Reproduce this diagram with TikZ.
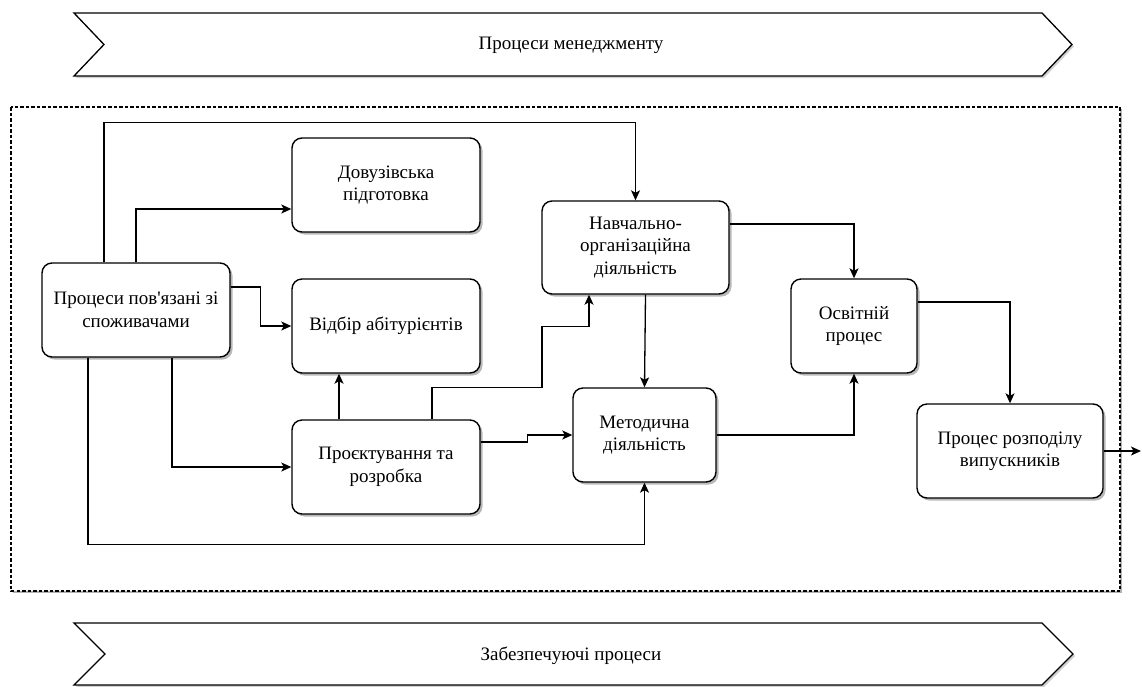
\documentclass[tikz,border=0pt]{standalone}
\usepackage{fontspec}
\newfontfamily\diagfont{Liberation Serif}
\usetikzlibrary{arrows.meta,shadows}

\tikzset{
  txt/.style={font=\diagfont\fontsize{19}{22.5}\selectfont, align=center},
  proc/.style={txt, draw, line width=1.4pt, rounded corners=10pt, fill=white,
    inner sep=0pt,
    drop shadow={shadow xshift=2.5pt, shadow yshift=-2.5pt, opacity=0.28, fill=black}},
  chev/.style={draw, line width=1.3pt, fill=white,
    drop shadow={shadow xshift=2pt, shadow yshift=-2pt, opacity=0.18, fill=black}},
  arr/.style={line width=1.3pt, -{Stealth[length=10pt, width=9pt, inset=2.5pt]}},
}

\begin{document}
\begin{tikzpicture}[x=1pt, y=-1pt]
\useasboundingbox (0,0) rectangle (1142,686);

% management processes band
\path[chev] (74,13) -- (1042,13) -- (1072,44.5) -- (1042,76) -- (74,76) -- (104,44.5) -- cycle;
\node[txt] (mgmt) at (571,45) {Процеси менеджменту};

% supporting processes band
\path[chev] (74,623) -- (1042,623) -- (1073,654) -- (1042,685) -- (74,685) -- (105,654) -- cycle;
\node[txt] (supp) at (571,656) {Забезпечуючі процеси};

% core process area
\draw[line width=1.2pt, dash pattern=on 3.5pt off 2pt,
  drop shadow={shadow xshift=1.5pt, shadow yshift=-2pt, opacity=0.3, fill=black}, fill=white]
  (11,107) rectangle (1120,591);

% process boxes
\node[proc, minimum width=188pt, minimum height=94pt] (cust) at (136,310)
  {Процеси пов'язані зі\\споживачами};
\node[proc, minimum width=188pt, minimum height=94pt] (dov) at (386,185)
  {Довузівська\\підготовка};
\node[proc, minimum width=188pt, minimum height=94pt] (vid) at (386,326)
  {Відбір абітурієнтів};
\node[proc, minimum width=188pt, minimum height=94pt] (proj) at (386,467)
  {Проєктування та\\розробка};
\node[proc, minimum width=187pt, minimum height=93pt] (navch) at (635.5,247.5)
  {Навчально-\\організаційна\\діяльність};
\node[proc, minimum width=143pt, minimum height=94pt] (metod) at (644.5,435)
  {Методична\\діяльність};
\node[proc, minimum width=126pt, minimum height=94pt] (osv) at (854,326)
  {Освітній\\процес};
\node[proc, minimum width=186pt, minimum height=94pt] (roz) at (1010,451)
  {Процес розподілу\\випускників};

\coordinate (out) at (1141,451);

% connectors
\draw[arr] ([xshift=-32pt]cust.north) |- ([yshift=78pt]navch.north) -- (navch.north);
\draw[arr] (cust.north) |- ([yshift=-24pt]dov.west);
\draw[arr] ([yshift=23pt]cust.east) -- ++(30,0) |- (vid.west);
\draw[arr] ([xshift=-48pt]cust.south) |- ([yshift=-62pt]metod.south) -- (metod.south);
\draw[arr] ([xshift=36pt]cust.south) |- (proj.west);
\draw[arr] ([xshift=-47pt]proj.north) -- ([xshift=-47pt]vid.south);
\draw[arr] ([xshift=46pt]proj.north) -- ++(0,-32) -- ++(110,0) -- ++(0,-61)
  -| ([xshift=-46.5pt]navch.south);
\draw[arr] ([xshift=10pt]navch.south) -- (metod.north);
\draw[arr] ([yshift=25pt]proj.east) -- ++(47,0) |- (metod.west);
\draw[arr] ([yshift=23.5pt]navch.east) -| (osv.north);
\draw[arr] (metod.east) -| (osv.south);
\draw[arr] ([yshift=24pt]osv.east) -| (roz.north);
\draw[arr] (roz.east) -- (out);

\end{tikzpicture}
\end{document}
